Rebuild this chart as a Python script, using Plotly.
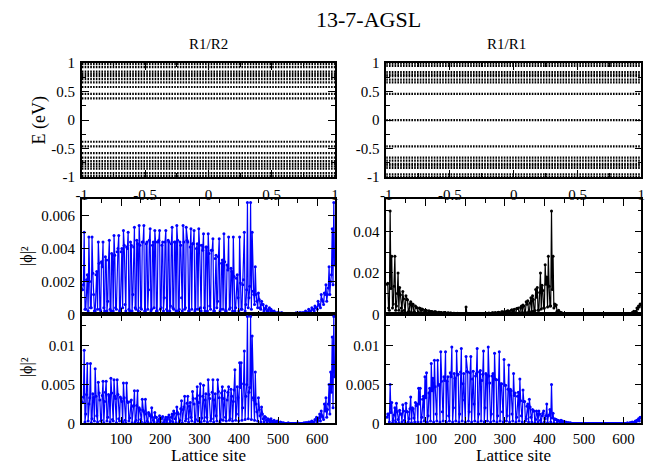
import plotly.graph_objects as go

W, H = 664, 473
FONT = "Liberation Serif, Times New Roman, DejaVu Serif, serif"

# ---------------- data ----------------
# band structure: flat superlattice minibands, E (eV) vs k (pi/a)
k_edges = [-1.0, 1.0]
bands_r1r2 = [0.38, 0.46, 0.58, 0.66, 0.72, 0.77, 0.81, 0.85, 0.93, 0.98,
              -0.38, -0.46, -0.58, -0.66, -0.72, -0.77, -0.81, -0.85, -0.93, -0.98]
bands_r1r1 = [0.0, 0.46, 0.66, 0.71, 0.77, 0.80, 0.84, 0.95, 0.99,
              -0.46, -0.66, -0.71, -0.77, -0.80, -0.84, -0.95, -0.99]

# lattice sites: set A = 2, 6, 10, ... ; set B = 4, 8, 12, ...
sites_a = list(range(2, 646, 4))
sites_b = list(range(4, 648, 4))

# R1/R2, first state (middle-left)
phi_r1r2_a_A = [
    0.0015, 0.0050, 0.0003, 0.0024, 0.0047, 0.0004, 0.0047, 0.0012, 0.0002, 0.0026,
    0.0044, 0.0003, 0.0032, 0.0044, 0.0002, 0.0033, 0.0008, 0.0045, 0.0002, 0.0036,
    0.0048, 0.0004, 0.0038, 0.0048, 0.0003, 0.0040, 0.0051, 0.0006, 0.0041, 0.0050,
    0.0002, 0.0042, 0.0012, 0.0053, 0.0003, 0.0043, 0.0054, 0.0004, 0.0044, 0.0054,
    0.0002, 0.0044, 0.0015, 0.0052, 0.0003, 0.0044, 0.0051, 0.0002, 0.0044, 0.0051,
    0.0004, 0.0044, 0.0010, 0.0051, 0.0002, 0.0044, 0.0005, 0.0053, 0.0003, 0.0044,
    0.0054, 0.0002, 0.0044, 0.0010, 0.0054, 0.0003, 0.0053, 0.0044, 0.0002, 0.0052,
    0.0043, 0.0051, 0.0003, 0.0043, 0.0052, 0.0004, 0.0042, 0.0049, 0.0002, 0.0041,
    0.0049, 0.0005, 0.0039, 0.0046, 0.0002, 0.0036, 0.0008, 0.0046, 0.0003, 0.0033,
    0.0049, 0.0002, 0.0030, 0.0047, 0.0004, 0.0026, 0.0047, 0.0002, 0.0022, 0.0010,
    0.0047, 0.0003, 0.0018, 0.0050, 0.0006, 0.0068, 0.0010, 0.0068, 0.0050, 0.0012,
    0.0029, 0.0008, 0.0013, 0.0004, 0.0008, 0.0006, 0.0003, 0.0005, 0.0002, 0.0004,
    0.0003, 0.0001, 0.0002, 0.0001, 0.0001, 0.0001, 0.0000, 0.0001, 0.0000, 0.0000,
    0.0000, 0.0000, 0.0000, 0.0000, 0.0000, 0.0000, 0.0001, 0.0000, 0.0001, 0.0001,
    0.0001, 0.0001, 0.0002, 0.0001, 0.0003, 0.0002, 0.0004, 0.0003, 0.0005, 0.0004,
    0.0008, 0.0005, 0.0012, 0.0008, 0.0013, 0.0018, 0.0012, 0.0029, 0.0020, 0.0052,
    0.0068,
]
phi_r1r2_a_B = [
    0.0018, 0.0003, 0.0021, 0.0002, 0.0020, 0.0004, 0.0025, 0.0002, 0.0024, 0.0003,
    0.0031, 0.0002, 0.0029, 0.0004, 0.0035, 0.0002, 0.0033, 0.0003, 0.0037, 0.0002,
    0.0036, 0.0003, 0.0040, 0.0002, 0.0038, 0.0004, 0.0042, 0.0002, 0.0040, 0.0003,
    0.0044, 0.0002, 0.0041, 0.0004, 0.0045, 0.0002, 0.0042, 0.0003, 0.0044, 0.0002,
    0.0043, 0.0003, 0.0045, 0.0002, 0.0042, 0.0004, 0.0044, 0.0002, 0.0045, 0.0003,
    0.0042, 0.0002, 0.0044, 0.0003, 0.0045, 0.0002, 0.0043, 0.0004, 0.0044, 0.0002,
    0.0045, 0.0003, 0.0042, 0.0002, 0.0044, 0.0004, 0.0045, 0.0002, 0.0041, 0.0003,
    0.0043, 0.0002, 0.0040, 0.0003, 0.0042, 0.0002, 0.0039, 0.0004, 0.0041, 0.0002,
    0.0037, 0.0003, 0.0039, 0.0002, 0.0034, 0.0004, 0.0035, 0.0002, 0.0031, 0.0003,
    0.0032, 0.0002, 0.0027, 0.0003, 0.0028, 0.0002, 0.0023, 0.0004, 0.0024, 0.0002,
    0.0019, 0.0003, 0.0021, 0.0002, 0.0015, 0.0004, 0.0017, 0.0003, 0.0014, 0.0006,
    0.0012, 0.0004, 0.0009, 0.0003, 0.0006, 0.0002, 0.0004, 0.0002, 0.0003, 0.0001,
    0.0002, 0.0001, 0.0001, 0.0000, 0.0001, 0.0000, 0.0001, 0.0000, 0.0000, 0.0000,
    0.0000, 0.0000, 0.0000, 0.0000, 0.0000, 0.0000, 0.0000, 0.0000, 0.0001, 0.0000,
    0.0001, 0.0000, 0.0001, 0.0001, 0.0002, 0.0001, 0.0003, 0.0002, 0.0004, 0.0003,
    0.0006, 0.0004, 0.0009, 0.0006, 0.0012, 0.0008, 0.0016, 0.0012, 0.0024, 0.0018,
    0.0030,
]

# R1/R1, zero-energy state (middle-right)
phi_r1r1_a_A = [
    0.0145, 0.0030, 0.0500, 0.0280, 0.0050, 0.0280, 0.0040, 0.0200, 0.0130, 0.0030,
    0.0110, 0.0020, 0.0090, 0.0070, 0.0015, 0.0060, 0.0050, 0.0010, 0.0040, 0.0032,
    0.0008, 0.0028, 0.0025, 0.0006, 0.0020, 0.0018, 0.0005, 0.0015, 0.0014, 0.0004,
    0.0012, 0.0011, 0.0003, 0.0010, 0.0009, 0.0002, 0.0008, 0.0007, 0.0002, 0.0006,
    0.0006, 0.0002, 0.0005, 0.0004, 0.0001, 0.0004, 0.0003, 0.0001, 0.0003, 0.0003,
    0.0035, 0.0001, 0.0002, 0.0002, 0.0001, 0.0002, 0.0002, 0.0001, 0.0003, 0.0002,
    0.0001, 0.0004, 0.0003, 0.0001, 0.0005, 0.0004, 0.0001, 0.0007, 0.0006, 0.0002,
    0.0009, 0.0008, 0.0002, 0.0012, 0.0011, 0.0003, 0.0016, 0.0015, 0.0004, 0.0022,
    0.0020, 0.0005, 0.0028, 0.0030, 0.0006, 0.0040, 0.0045, 0.0008, 0.0060, 0.0065,
    0.0010, 0.0080, 0.0090, 0.0015, 0.0120, 0.0130, 0.0020, 0.0200, 0.0140, 0.0030,
    0.0240, 0.0180, 0.0280, 0.0040, 0.0500, 0.0280, 0.0050, 0.0045, 0.0015, 0.0010,
    0.0008, 0.0005, 0.0003, 0.0002, 0.0001, 0.0001, 0.0000, 0.0000, 0.0000, 0.0000,
    0.0000, 0.0000, 0.0000, 0.0000, 0.0000, 0.0000, 0.0000, 0.0000, 0.0000, 0.0000,
    0.0000, 0.0000, 0.0000, 0.0000, 0.0000, 0.0000, 0.0000, 0.0000, 0.0000, 0.0000,
    0.0000, 0.0000, 0.0000, 0.0000, 0.0000, 0.0000, 0.0000, 0.0000, 0.0000, 0.0000,
    0.0000, 0.0000, 0.0001, 0.0002, 0.0004, 0.0008, 0.0015, 0.0012, 0.0030, 0.0040,
    0.0050,
]
phi_r1r1_a_B = [
    0.0150, 0.0020, 0.0125, 0.0030, 0.0135, 0.0020, 0.0100, 0.0020, 0.0095, 0.0015,
    0.0075, 0.0010, 0.0072, 0.0012, 0.0050, 0.0008, 0.0048, 0.0010, 0.0033, 0.0006,
    0.0030, 0.0005, 0.0024, 0.0006, 0.0020, 0.0004, 0.0017, 0.0004, 0.0014, 0.0003,
    0.0012, 0.0003, 0.0010, 0.0002, 0.0009, 0.0002, 0.0008, 0.0002, 0.0007, 0.0001,
    0.0006, 0.0001, 0.0005, 0.0001, 0.0005, 0.0001, 0.0004, 0.0001, 0.0004, 0.0001,
    0.0003, 0.0001, 0.0003, 0.0001, 0.0003, 0.0001, 0.0003, 0.0001, 0.0004, 0.0001,
    0.0004, 0.0001, 0.0005, 0.0001, 0.0006, 0.0001, 0.0007, 0.0002, 0.0008, 0.0002,
    0.0010, 0.0002, 0.0012, 0.0003, 0.0014, 0.0003, 0.0017, 0.0004, 0.0020, 0.0005,
    0.0024, 0.0005, 0.0028, 0.0006, 0.0034, 0.0008, 0.0040, 0.0010, 0.0048, 0.0012,
    0.0055, 0.0015, 0.0072, 0.0018, 0.0082, 0.0020, 0.0105, 0.0025, 0.0115, 0.0030,
    0.0145, 0.0035, 0.0135, 0.0040, 0.0120, 0.0030, 0.0040, 0.0015, 0.0020, 0.0008,
    0.0006, 0.0003, 0.0002, 0.0001, 0.0001, 0.0000, 0.0000, 0.0000, 0.0000, 0.0000,
    0.0000, 0.0000, 0.0000, 0.0000, 0.0000, 0.0000, 0.0000, 0.0000, 0.0000, 0.0000,
    0.0000, 0.0000, 0.0000, 0.0000, 0.0000, 0.0000, 0.0000, 0.0000, 0.0000, 0.0000,
    0.0000, 0.0000, 0.0000, 0.0000, 0.0000, 0.0000, 0.0000, 0.0000, 0.0000, 0.0000,
    0.0000, 0.0000, 0.0001, 0.0001, 0.0003, 0.0005, 0.0010, 0.0015, 0.0025, 0.0035,
    0.0045,
]

# R1/R2, second state (bottom-left)
phi_r1r2_b_A = [
    0.0027, 0.0094, 0.0012, 0.0077, 0.0025, 0.0077, 0.0006, 0.0033, 0.0070, 0.0010,
    0.0053, 0.0030, 0.0004, 0.0054, 0.0028, 0.0054, 0.0008, 0.0035, 0.0058, 0.0005,
    0.0056, 0.0032, 0.0056, 0.0006, 0.0034, 0.0028, 0.0052, 0.0004, 0.0052, 0.0027,
    0.0007, 0.0030, 0.0022, 0.0042, 0.0004, 0.0042, 0.0020, 0.0005, 0.0031, 0.0015,
    0.0031, 0.0003, 0.0014, 0.0010, 0.0020, 0.0004, 0.0014, 0.0008, 0.0003, 0.0010,
    0.0006, 0.0009, 0.0002, 0.0008, 0.0005, 0.0011, 0.0003, 0.0012, 0.0016, 0.0006,
    0.0021, 0.0012, 0.0004, 0.0029, 0.0018, 0.0035, 0.0006, 0.0035, 0.0022, 0.0008,
    0.0041, 0.0025, 0.0005, 0.0047, 0.0027, 0.0051, 0.0007, 0.0049, 0.0030, 0.0008,
    0.0056, 0.0032, 0.0006, 0.0056, 0.0030, 0.0010, 0.0056, 0.0033, 0.0005, 0.0047,
    0.0032, 0.0008, 0.0030, 0.0047, 0.0006, 0.0035, 0.0028, 0.0069, 0.0012, 0.0033,
    0.0078, 0.0078, 0.0020, 0.0093, 0.0035, 0.0137, 0.0040, 0.0137, 0.0112, 0.0030,
    0.0066, 0.0015, 0.0033, 0.0010, 0.0021, 0.0006, 0.0009, 0.0004, 0.0006, 0.0003,
    0.0006, 0.0002, 0.0004, 0.0002, 0.0003, 0.0001, 0.0002, 0.0001, 0.0001, 0.0000,
    0.0000, 0.0001, 0.0000, 0.0000, 0.0000, 0.0000, 0.0000, 0.0001, 0.0000, 0.0000,
    0.0000, 0.0001, 0.0001, 0.0001, 0.0002, 0.0002, 0.0003, 0.0002, 0.0005, 0.0008,
    0.0004, 0.0012, 0.0016, 0.0008, 0.0025, 0.0033, 0.0018, 0.0050, 0.0066, 0.0111,
    0.0137,
]
phi_r1r2_b_B = [
    0.0034, 0.0002, 0.0037, 0.0003, 0.0033, 0.0001, 0.0038, 0.0003, 0.0035, 0.0002,
    0.0039, 0.0003, 0.0036, 0.0001, 0.0040, 0.0003, 0.0037, 0.0002, 0.0039, 0.0003,
    0.0035, 0.0001, 0.0037, 0.0003, 0.0032, 0.0002, 0.0033, 0.0001, 0.0028, 0.0003,
    0.0028, 0.0001, 0.0023, 0.0002, 0.0023, 0.0001, 0.0018, 0.0002, 0.0017, 0.0001,
    0.0012, 0.0002, 0.0012, 0.0001, 0.0008, 0.0002, 0.0008, 0.0001, 0.0005, 0.0002,
    0.0007, 0.0001, 0.0005, 0.0002, 0.0008, 0.0001, 0.0008, 0.0002, 0.0013, 0.0001,
    0.0014, 0.0002, 0.0019, 0.0001, 0.0021, 0.0003, 0.0026, 0.0002, 0.0027, 0.0003,
    0.0032, 0.0002, 0.0032, 0.0003, 0.0036, 0.0002, 0.0035, 0.0003, 0.0038, 0.0002,
    0.0037, 0.0003, 0.0040, 0.0002, 0.0038, 0.0003, 0.0041, 0.0002, 0.0039, 0.0004,
    0.0042, 0.0003, 0.0040, 0.0004, 0.0044, 0.0003, 0.0043, 0.0004, 0.0047, 0.0003,
    0.0046, 0.0004, 0.0051, 0.0005, 0.0050, 0.0006, 0.0046, 0.0005, 0.0033, 0.0004,
    0.0025, 0.0003, 0.0018, 0.0002, 0.0012, 0.0002, 0.0008, 0.0001, 0.0005, 0.0001,
    0.0003, 0.0001, 0.0002, 0.0000, 0.0001, 0.0000, 0.0001, 0.0000, 0.0000, 0.0000,
    0.0000, 0.0000, 0.0000, 0.0000, 0.0000, 0.0000, 0.0000, 0.0000, 0.0000, 0.0000,
    0.0000, 0.0000, 0.0001, 0.0000, 0.0001, 0.0001, 0.0002, 0.0001, 0.0004, 0.0002,
    0.0007, 0.0003, 0.0010, 0.0005, 0.0016, 0.0008, 0.0025, 0.0012, 0.0040, 0.0020,
    0.0060,
]

# R1/R1, second state (bottom-right)
phi_r1r1_b_A = [
    0.0008, 0.0012, 0.0050, 0.0027, 0.0004, 0.0020, 0.0026, 0.0005, 0.0017, 0.0012,
    0.0024, 0.0004, 0.0026, 0.0015, 0.0006, 0.0034, 0.0020, 0.0007, 0.0027, 0.0025,
    0.0045, 0.0045, 0.0008, 0.0035, 0.0060, 0.0065, 0.0010, 0.0045, 0.0077, 0.0058,
    0.0081, 0.0012, 0.0081, 0.0050, 0.0092, 0.0015, 0.0060, 0.0092, 0.0054, 0.0010,
    0.0065, 0.0098, 0.0020, 0.0058, 0.0093, 0.0063, 0.0012, 0.0096, 0.0051, 0.0030,
    0.0086, 0.0066, 0.0015, 0.0086, 0.0057, 0.0025, 0.0061, 0.0096, 0.0012, 0.0068,
    0.0055, 0.0093, 0.0020, 0.0062, 0.0098, 0.0052, 0.0012, 0.0064, 0.0090, 0.0056,
    0.0010, 0.0092, 0.0051, 0.0015, 0.0082, 0.0049, 0.0010, 0.0075, 0.0044, 0.0012,
    0.0064, 0.0039, 0.0008, 0.0040, 0.0057, 0.0010, 0.0043, 0.0028, 0.0006, 0.0025,
    0.0031, 0.0008, 0.0018, 0.0016, 0.0005, 0.0012, 0.0016, 0.0004, 0.0010, 0.0016,
    0.0006, 0.0025, 0.0010, 0.0018, 0.0050, 0.0013, 0.0006, 0.0005, 0.0004, 0.0003,
    0.0004, 0.0003, 0.0002, 0.0002, 0.0001, 0.0001, 0.0001, 0.0000, 0.0000, 0.0000,
    0.0000, 0.0000, 0.0000, 0.0000, 0.0000, 0.0000, 0.0000, 0.0000, 0.0000, 0.0000,
    0.0000, 0.0000, 0.0000, 0.0000, 0.0000, 0.0000, 0.0000, 0.0000, 0.0000, 0.0000,
    0.0000, 0.0000, 0.0000, 0.0000, 0.0000, 0.0000, 0.0000, 0.0000, 0.0000, 0.0000,
    0.0000, 0.0000, 0.0001, 0.0000, 0.0001, 0.0002, 0.0001, 0.0003, 0.0004, 0.0006,
    0.0008,
]
phi_r1r1_b_B = [
    0.0012, 0.0002, 0.0014, 0.0001, 0.0011, 0.0002, 0.0015, 0.0001, 0.0012, 0.0002,
    0.0016, 0.0001, 0.0015, 0.0002, 0.0019, 0.0001, 0.0019, 0.0002, 0.0023, 0.0002,
    0.0025, 0.0002, 0.0031, 0.0003, 0.0033, 0.0002, 0.0039, 0.0003, 0.0042, 0.0002,
    0.0047, 0.0003, 0.0049, 0.0002, 0.0054, 0.0003, 0.0055, 0.0002, 0.0060, 0.0003,
    0.0060, 0.0002, 0.0064, 0.0003, 0.0062, 0.0002, 0.0066, 0.0003, 0.0064, 0.0002,
    0.0067, 0.0003, 0.0065, 0.0002, 0.0067, 0.0003, 0.0064, 0.0002, 0.0066, 0.0003,
    0.0063, 0.0002, 0.0064, 0.0003, 0.0061, 0.0002, 0.0061, 0.0003, 0.0057, 0.0002,
    0.0056, 0.0003, 0.0051, 0.0002, 0.0049, 0.0003, 0.0044, 0.0002, 0.0042, 0.0003,
    0.0036, 0.0002, 0.0035, 0.0003, 0.0029, 0.0002, 0.0028, 0.0003, 0.0022, 0.0002,
    0.0021, 0.0002, 0.0016, 0.0001, 0.0016, 0.0002, 0.0012, 0.0001, 0.0013, 0.0002,
    0.0010, 0.0001, 0.0011, 0.0002, 0.0007, 0.0001, 0.0005, 0.0001, 0.0003, 0.0001,
    0.0002, 0.0001, 0.0001, 0.0001, 0.0001, 0.0000, 0.0000, 0.0000, 0.0000, 0.0000,
    0.0000, 0.0000, 0.0000, 0.0000, 0.0000, 0.0000, 0.0000, 0.0000, 0.0000, 0.0000,
    0.0000, 0.0000, 0.0000, 0.0000, 0.0000, 0.0000, 0.0000, 0.0000, 0.0000, 0.0000,
    0.0000, 0.0000, 0.0000, 0.0000, 0.0000, 0.0000, 0.0000, 0.0000, 0.0000, 0.0000,
    0.0000, 0.0000, 0.0000, 0.0001, 0.0001, 0.0001, 0.0002, 0.0002, 0.0004, 0.0003,
    0.0007,
]

titles = ["R1/R2", "R1/R1"]
main_title = "13-7-AGSL"


def merge(vals_a, vals_b):
    """Interleave the two site sets into one site-ordered series."""
    xs, ys = [], []
    for sa, va, sb, vb in zip(sites_a, vals_a, sites_b, vals_b):
        xs += [sa, sb]
        ys += [va, vb]
    return xs, ys


# ---------------- figure ----------------
fig = go.Figure()

# band structure panels
for axn, bands in (("", bands_r1r2), ("2", bands_r1r1)):
    for e in bands:
        fig.add_trace(go.Scatter(
            x=k_edges, y=[e, e], mode="lines",
            line=dict(color="black", width=2.2, dash="1.6px,1.2px"),
            xaxis="x" + axn, yaxis="y" + axn, hoverinfo="skip"))

# wavefunction panels
for axn, va, vb, col in (("3", phi_r1r2_a_A, phi_r1r2_a_B, "#0000ff"),
                         ("4", phi_r1r1_a_A, phi_r1r1_a_B, "#000000"),
                         ("5", phi_r1r2_b_A, phi_r1r2_b_B, "#0000ff"),
                         ("6", phi_r1r1_b_A, phi_r1r1_b_B, "#0000ff")):
    xs, ys = merge(va, vb)
    fig.add_trace(go.Scatter(
        x=xs, y=ys, mode="lines+markers",
        line=dict(color=col, width=1.2),
        marker=dict(color=col, size=3),
        cliponaxis=False,
        xaxis="x" + axn, yaxis="y" + axn))

# pixel helpers
def xd(a, b):
    return [a / W, b / W]

def yd(top, bottom):
    return [1 - bottom / H, 1 - top / H]

LEFT = xd(77, 334)
RIGHT = xd(386, 645)
ROW1 = yd(57, 175)
ROW2 = yd(198, 317)
ROW3 = yd(317, 430)

tickfont = dict(family=FONT, size=15, color="black")

def axis(domain, anchor, rng, tv, tt, minor_vals, labels=True, standoff=2):
    return dict(
        domain=domain, anchor=anchor, range=rng, autorange=False,
        showline=True, linecolor="black", linewidth=1.5, mirror="allticks",
        ticks="inside", ticklen=7, tickwidth=1.2, tickcolor="black",
        tickmode="array", tickvals=tv, ticktext=tt, showticklabels=labels,
        minor=dict(tickmode="array", tickvals=minor_vals, ticks="inside",
                   ticklen=4, tickwidth=1, tickcolor="black", showgrid=False),
        showgrid=False, zeroline=False, tickfont=tickfont,
        ticklabelstandoff=standoff,
    )

k_ticks = [-1, -0.5, 0, 0.5, 1]
k_text = ["-1", "-0.5", "0", "0.5", "1"]
k_minor = [-0.75, -0.25, 0.25, 0.75]
site_ticks = [100, 200, 300, 400, 500, 600]
site_text = ["100", "200", "300", "400", "500", "600"]
site_minor = [50, 150, 250, 350, 450, 550]
XR = [0, 645]

layout = dict(
    width=W, height=H, margin=dict(l=0, r=0, t=0, b=0),
    paper_bgcolor="white", plot_bgcolor="white", showlegend=False,
    xaxis=axis(LEFT, "y", [-1, 1], k_ticks, k_text, k_minor, standoff=3),
    yaxis=axis(ROW1, "x", [-1, 1], k_ticks, k_text, k_minor),
    xaxis2=axis(RIGHT, "y2", [-1, 1], k_ticks, k_text, k_minor, standoff=3),
    yaxis2=axis(ROW1, "x2", [-1, 1], k_ticks, k_text, k_minor),
    xaxis3=axis(LEFT, "y3", XR, site_ticks, site_text, site_minor, labels=False),
    yaxis3=axis(ROW2, "x3", [0, 0.007], [0, 0.002, 0.004, 0.006],
                ["0", "0.002", "0.004", "0.006"], [0.001, 0.003, 0.005]),
    xaxis4=axis(RIGHT, "y4", XR, site_ticks, site_text, site_minor, labels=False),
    yaxis4=axis(ROW2, "x4", [0, 0.0556], [0, 0.02, 0.04],
                ["0", "0.02", "0.04"], [0.01, 0.03, 0.05]),
    xaxis5=axis(LEFT, "y5", XR, site_ticks, site_text, site_minor, standoff=1),
    yaxis5=axis(ROW3, "x5", [0, 0.014], [0, 0.005, 0.01],
                ["0", "0.005", "0.01"], [0.0025, 0.0075, 0.0125]),
    xaxis6=axis(RIGHT, "y6", XR, site_ticks, site_text, site_minor, standoff=1),
    yaxis6=axis(ROW3, "x6", [0, 0.014], [0, 0.005, 0.01],
                ["0", "0.005", "0.01"], [0.0025, 0.0075, 0.0125]),
)
fig.update_layout(**layout)

def ann(text, px, py, size, angle=0):
    fig.add_annotation(text=text, x=px / W, y=1 - py / H, xref="paper", yref="paper",
                       showarrow=False, xanchor="center", yanchor="middle",
                       textangle=angle, borderpad=0,
                       font=dict(family=FONT, size=size, color="black"))

ann(main_title, 368, 12, 22)
ann(titles[0], 205.5, 37, 15)
ann(titles[1], 508, 37, 15)
ann("E (eV)", 34, 116, 18, -90)
ann("|ϕ|²", 22, 257, 16, -90)
ann("|ϕ|²", 22, 372, 16, -90)
ann("Lattice site", 206, 463, 17)
ann("Lattice site", 515, 463, 17)

fig.write_html("out.html")
